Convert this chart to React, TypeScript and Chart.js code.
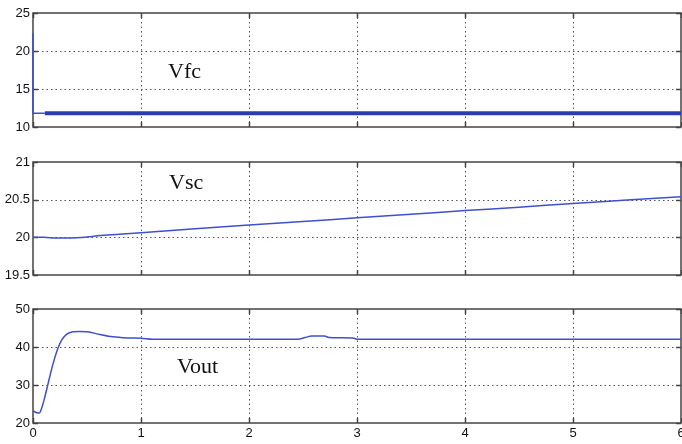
import React, { useEffect, useRef } from "react";
import { Chart, registerables } from "chart.js";

Chart.register(...registerables);

// ---- data ----
const xTicks = [0, 1, 2, 3, 4, 5, 6];

const vfcTicks = [10, 15, 20, 25];
const vfcStartT = [0, 0, 0.11];
const vfcStartV = [22.3, 11.8, 11.8];
const vfcT = [0.11, 1, 2, 3, 4, 5, 6];
const vfcV = [11.8, 11.8, 11.8, 11.8, 11.8, 11.8, 11.8];

const vscTicks = [19.5, 20, 20.5, 21];
const vscT = [0, 0.1, 0.2, 0.3, 0.4, 0.5, 0.6, 0.8, 1, 1.5, 2, 2.5, 3, 3.5, 4, 4.5, 5, 5.5, 6];
const vscV = [20.0, 20.0, 19.992, 19.99, 19.995, 20.005, 20.02, 20.04, 20.06, 20.115, 20.165, 20.21, 20.26, 20.305, 20.355, 20.4, 20.45, 20.495, 20.54];

const voutTicks = [20, 30, 40, 50];
const voutT = [0, 0.034, 0.058, 0.08, 0.11, 0.14, 0.17, 0.2, 0.23, 0.265, 0.31, 0.37, 0.43, 0.5, 0.62, 0.74, 0.87, 1.0, 1.11, 1.5, 2.0, 2.45, 2.52, 2.58, 2.7, 2.74, 2.85, 2.96, 3.0, 3.5, 4, 5, 6];
const voutV = [23.2, 22.7, 22.6, 23.9, 26.9, 30.4, 33.9, 37.0, 39.6, 41.8, 43.3, 44.0, 44.1, 44.0, 43.3, 42.7, 42.4, 42.3, 42.05, 42.05, 42.05, 42.05, 42.5, 42.9, 42.9, 42.5, 42.45, 42.4, 42.05, 42.05, 42.05, 42.05, 42.05];

const LINE = "#3d50d2";
const THICK = "#2a3cb0";
const TICK_FONT = { family: "'Liberation Sans', Arial, sans-serif", size: 13 };

const pts = (t: number[], v: number[]) => t.map((x, i) => ({ x, y: v[i] }));

const framePlugin = {
  id: "frame",
  beforeDatasetsDraw(chart: any) {
    const { ctx, chartArea: a, scales } = chart;
    const x = scales.x;
    const y = scales.y;
    ctx.save();
    ctx.strokeStyle = "#555";
    ctx.lineWidth = 1;
    ctx.setLineDash([1.5, 3]);
    x.ticks.forEach((t: any) => {
      const px = Math.round(x.getPixelForValue(t.value)) + 0.5;
      if (px <= a.left + 2 || px >= a.right - 2) return;
      ctx.beginPath();
      ctx.moveTo(px, a.top);
      ctx.lineTo(px, a.bottom);
      ctx.stroke();
    });
    y.ticks.forEach((t: any) => {
      const py = Math.round(y.getPixelForValue(t.value)) + 0.5;
      if (py <= a.top + 2 || py >= a.bottom - 2) return;
      ctx.beginPath();
      ctx.moveTo(a.left, py);
      ctx.lineTo(a.right, py);
      ctx.stroke();
    });
    ctx.setLineDash([]);
    ctx.strokeStyle = "#444";
    ctx.lineWidth = 1.5;
    ctx.strokeRect(a.left, a.top, a.right - a.left, a.bottom - a.top);
    const L = 5;
    ctx.beginPath();
    x.ticks.forEach((t: any) => {
      const px = Math.round(x.getPixelForValue(t.value)) + 0.5;
      ctx.moveTo(px, a.top);
      ctx.lineTo(px, a.top + L);
      ctx.moveTo(px, a.bottom);
      ctx.lineTo(px, a.bottom - L);
    });
    y.ticks.forEach((t: any) => {
      const py = Math.round(y.getPixelForValue(t.value)) + 0.5;
      ctx.moveTo(a.left, py);
      ctx.lineTo(a.left + L, py);
      ctx.moveTo(a.right, py);
      ctx.lineTo(a.right - L, py);
    });
    ctx.stroke();
    ctx.restore();
  },
  afterDraw(chart: any, _args: any, opts: any) {
    if (!opts || !opts.text) return;
    const { ctx } = chart;
    ctx.save();
    ctx.fillStyle = "#111";
    ctx.font = "22px 'Liberation Serif', 'Times New Roman', serif";
    ctx.textBaseline = "alphabetic";
    ctx.textAlign = "left";
    ctx.fillText(opts.text, opts.x, opts.y);
    ctx.restore();
  },
};

type Panel = {
  height: number;
  top: number;
  padTop: number;
  padBottom: number;
  yMin: number;
  yMax: number;
  yTicks: number[];
  showX: boolean;
  datasets: any[];
  label: { text: string; x: number; y: number };
};

function PanelChart({ p }: { p: Panel }) {
  const ref = useRef<HTMLCanvasElement>(null);
  useEffect(() => {
    const chart = new Chart(ref.current as HTMLCanvasElement, {
      type: "line",
      data: { datasets: p.datasets },
      plugins: [framePlugin as any],
      options: {
        animation: false,
        responsive: false,
        devicePixelRatio: 1,
        layout: { padding: { top: p.padTop, bottom: p.padBottom, left: 0, right: 19 } },
        plugins: { legend: { display: false }, tooltip: { enabled: false }, frame: p.label } as any,
        elements: { point: { radius: 0 } },
        scales: {
          x: {
            type: "linear",
            min: 0,
            max: 6,
            grid: { display: false, drawTicks: false },
            border: { display: false },
            afterBuildTicks: (s: any) => {
              s.ticks = xTicks.map((v) => ({ value: v }));
            },
            afterFit: (s: any) => {
              s.height = p.showX ? 21 : 0;
            },
            ticks: {
              display: p.showX,
              padding: 3,
              maxRotation: 0,
              autoSkip: false,
              color: "#111",
              font: TICK_FONT,
              callback: (v: any) => String(v),
            },
          },
          y: {
            type: "linear",
            min: p.yMin,
            max: p.yMax,
            grid: { display: false, drawTicks: false },
            border: { display: false },
            afterBuildTicks: (s: any) => {
              s.ticks = p.yTicks.map((v) => ({ value: v }));
            },
            afterFit: (s: any) => {
              s.width = 33;
            },
            ticks: {
              padding: 3,
              color: "#111",
              font: TICK_FONT,
              autoSkip: false,
              callback: (v: any) => String(v),
            },
          },
        },
      } as any,
    });
    return () => chart.destroy();
  }, []);
  return (
    <div style={{ position: "absolute", left: 0, top: p.top, width: 700, height: p.height }}>
      <canvas ref={ref} width={700} height={p.height} style={{ width: 700, height: p.height, display: "block" }} />
    </div>
  );
}

const lineDs = (t: number[], v: number[], color: string, width: number, mono = true) => ({
  data: pts(t, v),
  borderColor: color,
  borderWidth: width,
  pointRadius: 0,
  fill: false,
  clip: 4,
  cubicInterpolationMode: mono ? "monotone" : "default",
  tension: 0,
});

const panels: Panel[] = [
  {
    height: 140,
    top: 0,
    padTop: 13,
    padBottom: 13,
    yMin: 10,
    yMax: 25,
    yTicks: vfcTicks,
    showX: false,
    datasets: [lineDs(vfcStartT, vfcStartV, LINE, 1.5, false), lineDs(vfcT, vfcV, THICK, 4, false)],
    label: { text: "Vfc", x: 168, y: 78 },
  },
  {
    height: 150,
    top: 140,
    padTop: 22,
    padBottom: 15,
    yMin: 19.5,
    yMax: 21,
    yTicks: vscTicks,
    showX: false,
    datasets: [lineDs(vscT, vscV, LINE, 1.5)],
    label: { text: "Vsc", x: 169, y: 49 },
  },
  {
    height: 154,
    top: 290,
    padTop: 19,
    padBottom: 0,
    yMin: 20,
    yMax: 50,
    yTicks: voutTicks,
    showX: true,
    datasets: [lineDs(voutT, voutV, LINE, 1.5)],
    label: { text: "Vout", x: 177, y: 83 },
  },
];

export default function App() {
  return (
    <div
      style={{
        position: "absolute",
        left: 0,
        top: 0,
        width: 682,
        height: 444,
        overflow: "hidden",
        background: "#fff",
      }}
    >
      {panels.map((p, i) => (
        <PanelChart key={i} p={p} />
      ))}
    </div>
  );
}
